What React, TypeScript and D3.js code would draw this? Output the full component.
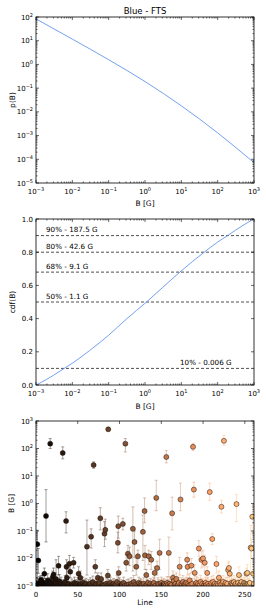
import React from 'react';
import * as d3 from 'd3';

const pdfB = [1e-3, 1e-2, 1e-1, 1, 10, 100, 1000];
const pdfP = [83, 11.7, 1.58, 0.19, 0.018, 1.3e-3, 7.2e-5];

// middle panel: cdf(B)
const cdfB = [1e-3, 2e-3, 3e-3, 6e-3, 1e-2, 3e-2, 1e-1, 3e-1, 1.1, 3, 9.1, 20, 42.6, 100, 187.5, 500, 1e3];
const cdfV = [0, 0.035, 0.058, 0.1, 0.131, 0.208, 0.3, 0.395, 0.5, 0.586, 0.68, 0.743, 0.8, 0.861, 0.9, 0.962, 1.0];

const quantLevels = [0.9, 0.8, 0.68, 0.5, 0.1];
const quantLabels = ['90% - 187.5 G', '80% - 42.6 G', '68% - 9.1 G', '50% - 1.1 G', '10% - 0.006 G'];

// bottom panel: [line, B, lower, upper]
const peakPoints: [number, number, number, number][] = [
  [1.6, 0.033, 0.0011, 0.107], [2.8, 0.0085, 0.0029, 0.023], [6, 0.0017, 0.0012, 0.0024],
  [10, 0.0028, 0.0019, 0.0045], [12, 0.35, 0.04, 3.2], [16, 0.0015, 0.0011, 0.002],
  [17, 150, 100, 230], [21, 0.0026, 0.0015, 0.0045], [24, 0.0018, 0.0011, 0.009],
  [27, 0.0054, 0.0025, 0.012], [32, 69, 42, 115], [36, 0.23, 0.085, 0.5],
  [36.5, 0.005, 0.0025, 0.009], [37, 0.002, 0.0012, 0.004], [40, 0.0065, 0.0035, 0.013],
  [41, 0.0033, 0.002, 0.006], [45, 0.007, 0.0045, 0.011], [51, 0.0028, 0.0016, 0.005],
  [53, 0.002, 0.0012, 0.0035], [61, 0.027, 0.0025, 0.25], [66, 0.062, 0.024, 0.12],
  [69, 25, 19, 33], [71, 0.005, 0.003, 0.009], [74, 0.002, 0.0012, 0.003],
  [77, 0.29, 0.11, 0.7], [82, 0.08, 0.027, 0.22], [83, 0.11, 0.05, 0.27],
  [86, 0.0024, 0.0014, 0.004], [86.5, 500, 430, 580], [98, 0.037, 0.016, 0.09],
  [98.5, 0.15, 0.055, 0.35], [99, 0.003, 0.0018, 0.005], [104, 0.18, 0.11, 0.29],
  [107, 150, 75, 230], [108, 0.007, 0.0035, 0.014], [110, 0.015, 0.006, 0.03],
  [112, 0.012, 0.0055, 0.026], [116, 0.12, 0.0035, 0.75], [118, 0.04, 0.011, 0.1],
  [120, 0.005, 0.0025, 0.01], [122, 0.012, 0.005, 0.02], [128, 0.093, 0.0085, 0.38],
  [130, 0.53, 0.2, 1.6], [130.5, 0.013, 0.004, 0.03], [132, 0.0025, 0.0015, 0.004],
  [135, 0.012, 0.006, 0.02], [138, 0.009, 0.004, 0.018], [142, 0.003, 0.0018, 0.005],
  [144, 1.6, 0.55, 7], [145, 0.0045, 0.0025, 0.008], [148, 0.016, 0.004, 0.05],
  [156, 49, 30, 85], [159, 0.016, 0.0022, 0.06], [163, 0.44, 0.11, 1.7],
  [164, 0.002, 0.0012, 0.0035], [172, 0.005, 0.0025, 0.011], [173, 1.4, 0.55, 5.5],
  [181, 0.009, 0.004, 0.016], [181.5, 0.005, 0.0025, 0.01], [186, 0.0055, 0.003, 0.01],
  [188, 115, 85, 155], [189, 3.2, 1.7, 6], [190, 0.003, 0.0018, 0.006],
  [195, 0.023, 0.012, 0.045], [198, 0.009, 0.0045, 0.018], [200, 0.01, 0.005, 0.02],
  [202, 0.007, 0.0035, 0.013], [205, 0.003, 0.0018, 0.005], [208, 2.6, 1.3, 5.5],
  [211, 0.051, 0.032, 0.08], [216, 0.0063, 0.003, 0.012], [219, 0.002, 0.0012, 0.0035],
  [222, 0.76, 0.45, 1.3], [225, 190, 130, 300], [230, 0.0038, 0.002, 0.007],
  [231, 0.0045, 0.0025, 0.008], [232, 0.0028, 0.0015, 0.005], [240, 0.95, 0.22, 2.1],
  [243, 0.0025, 0.0015, 0.005], [253, 0.003, 0.0018, 0.006], [257, 0.025, 0.0025, 0.16],
  [258, 0.023, 0.011, 0.05], [259, 0.33, 0.08, 0.8], [260, 0.0028, 0.0015, 0.006],
];

// bottom panel, points sitting near the 1e-3 floor: [line, B, upper]
const floorPoints: [number, number, number][] = [
  [0, 0.00105, 0.0016], [1, 0.0012, 0.002], [3, 0.0011, 0.0018], [4, 0.0013, 0.0022], [5, 0.00102, 0.0015],
  [7, 0.00115, 0.0017], [8, 0.0014, 0.0025], [9, 0.00101, 0.0014], [11, 0.0012, 0.0019], [13, 0.00103, 0.0015],
  [14, 0.0016, 0.0028], [15, 0.00101, 0.0014], [18, 0.0011, 0.0017], [19, 0.0013, 0.002], [20, 0.0021, 0.0035],
  [22, 0.00102, 0.0015], [23, 0.0017, 0.003], [25, 0.0012, 0.0019], [26, 0.00101, 0.0014], [28, 0.0015, 0.0026],
  [29, 0.00104, 0.0015], [30, 0.0013, 0.0021], [31, 0.00101, 0.0014], [33, 0.0011, 0.0017], [34, 0.00102, 0.0015],
  [35, 0.0014, 0.0024], [38, 0.00101, 0.0014], [39, 0.0012, 0.002], [42, 0.00103, 0.0015], [43, 0.0011, 0.0018],
  [44, 0.00101, 0.0014], [46, 0.0013, 0.0021], [47, 0.00102, 0.0015], [48, 0.0011, 0.0017], [49, 0.00101, 0.0014],
  [50, 0.0012, 0.002], [52, 0.00104, 0.0015], [54, 0.00115, 0.0018], [55, 0.00101, 0.0014], [56, 0.0013, 0.0021],
  [57, 0.00102, 0.0015], [58, 0.0011, 0.0017], [59, 0.00105, 0.0016], [60, 0.0012, 0.0019], [62, 0.00101, 0.0014],
  [63, 0.0011, 0.0017], [64, 0.00103, 0.0015], [65, 0.0012, 0.002], [67, 0.00102, 0.0015], [68, 0.0014, 0.0023],
  [70, 0.00101, 0.0014], [72, 0.0012, 0.0019], [73, 0.0011, 0.0017], [75, 0.00103, 0.0015], [76, 0.0013, 0.0021],
  [78, 0.0018, 0.003], [79, 0.00102, 0.0015], [80, 0.0011, 0.0017], [81, 0.00101, 0.0014], [84, 0.0012, 0.002],
  [85, 0.00102, 0.0015], [87, 0.0011, 0.0017], [88, 0.00101, 0.0014], [89, 0.0013, 0.0021], [90, 0.00102, 0.0015],
  [91, 0.0011, 0.0017], [92, 0.00101, 0.0014], [93, 0.0012, 0.0019], [94, 0.00103, 0.0015], [95, 0.0011, 0.0017],
  [96, 0.00102, 0.0015], [97, 0.0014, 0.0024], [100, 0.0012, 0.002], [101, 0.00101, 0.0014], [102, 0.0011, 0.0017],
  [103, 0.00102, 0.0015], [105, 0.0013, 0.0021], [106, 0.00101, 0.0014], [109, 0.0011, 0.0017], [111, 0.00115, 0.0018],
  [113, 0.00102, 0.0015], [114, 0.0012, 0.002], [115, 0.00101, 0.0014], [117, 0.0014, 0.0024], [119, 0.0011, 0.0017],
  [121, 0.00102, 0.0015], [123, 0.0013, 0.0021], [124, 0.00101, 0.0014], [125, 0.0012, 0.0019], [126, 0.0011, 0.0017],
  [127, 0.00102, 0.0015], [129, 0.0012, 0.002], [131, 0.00101, 0.0014], [133, 0.0011, 0.0017], [134, 0.0013, 0.0022],
  [136, 0.00102, 0.0015], [137, 0.0012, 0.0019], [139, 0.0011, 0.0017], [140, 0.00101, 0.0014], [141, 0.0013, 0.0021],
  [143, 0.00102, 0.0015], [146, 0.0012, 0.002], [147, 0.0011, 0.0017], [149, 0.00101, 0.0014], [150, 0.0013, 0.0021],
  [151, 0.0011, 0.0017], [152, 0.00102, 0.0015], [153, 0.0012, 0.0019], [154, 0.0011, 0.0017], [155, 0.00101, 0.0014],
  [157, 0.0013, 0.0022], [158, 0.0011, 0.0017], [160, 0.0012, 0.002], [161, 0.00102, 0.0015], [162, 0.0011, 0.0017],
  [165, 0.0015, 0.0026], [166, 0.0011, 0.0017], [167, 0.0012, 0.0019], [168, 0.0018, 0.003], [169, 0.00102, 0.0015],
  [170, 0.0011, 0.0017], [171, 0.0013, 0.0021], [174, 0.0012, 0.002], [175, 0.0011, 0.0017], [176, 0.0014, 0.0024],
  [177, 0.00102, 0.0015], [178, 0.0012, 0.0019], [179, 0.0011, 0.0017], [180, 0.0013, 0.0021], [182, 0.0012, 0.002],
  [183, 0.00102, 0.0015], [184, 0.0016, 0.0028], [185, 0.0011, 0.0017], [187, 0.0012, 0.0019], [191, 0.0011, 0.0017],
  [192, 0.0013, 0.0022], [193, 0.00102, 0.0015], [194, 0.0012, 0.002], [196, 0.0011, 0.0017], [197, 0.0014, 0.0024],
  [199, 0.0012, 0.0019], [201, 0.0011, 0.0017], [203, 0.0013, 0.0021], [204, 0.0011, 0.0017], [206, 0.0012, 0.002],
  [207, 0.00102, 0.0015], [209, 0.0011, 0.0017], [210, 0.0013, 0.0022], [212, 0.0014, 0.0024], [213, 0.0011, 0.0017],
  [214, 0.0012, 0.0019], [215, 0.00102, 0.0015], [217, 0.0012, 0.002], [218, 0.0011, 0.0017], [220, 0.0013, 0.0021],
  [221, 0.0011, 0.0017], [223, 0.0012, 0.0019], [224, 0.0014, 0.0024], [226, 0.0011, 0.0017], [227, 0.0013, 0.0021],
  [228, 0.00102, 0.0015], [229, 0.0012, 0.002], [233, 0.0011, 0.0017], [234, 0.0013, 0.0022], [235, 0.0012, 0.0019],
  [236, 0.0011, 0.0017], [237, 0.0014, 0.0024], [238, 0.00102, 0.0015], [239, 0.0012, 0.002], [241, 0.0011, 0.0017],
  [242, 0.0013, 0.0021], [244, 0.0011, 0.0017], [245, 0.0012, 0.0019], [246, 0.0014, 0.0024], [247, 0.00102, 0.0015],
  [248, 0.0011, 0.0017], [249, 0.0013, 0.0021], [250, 0.0012, 0.002], [251, 0.0011, 0.0017], [252, 0.0028, 0.0045],
  [254, 0.0012, 0.0019], [255, 0.0011, 0.0017], [256, 0.0013, 0.0022], [261, 0.0012, 0.002],
];

const lineTicks = [0, 50, 100, 150, 200, 250];
const cdfTicks = [0, 0.2, 0.4, 0.6, 0.8, 1.0];

const FONT = 'DejaVu Sans, sans-serif';
const L = 36, R = 254;
const nLines = 261;

const decades = (a: number, b: number) => d3.range(a, b + 1);
const minors = (a: number, b: number) =>
  d3.range(a, b).flatMap((e) => d3.range(2, 10).map((m) => m * 10 ** e));

// matplotlib copper colormap
const copper = (t: number) =>
  d3.rgb(255 * Math.min(1, 1.25 * t), 255 * 0.7812 * t, 255 * 0.4975 * t).toString();

const Pow10 = ({ e }: { e: number }) => (
  <>
    10<tspan dy={-3} fontSize={5}>{e < 0 ? `\u2212${-e}` : e}</tspan>
  </>
);

type Sc = (v: number) => number;

function Frame({ xs, ys, xMaj, xMin, yMaj, yMin, top, bottom }: {
  xs: Sc; ys: Sc; xMaj: number[]; xMin: number[]; yMaj: number[]; yMin: number[]; top: number; bottom: number;
}) {
  const segs: JSX.Element[] = [];
  const add = (x1: number, y1: number, x2: number, y2: number, k: string) =>
    segs.push(<line key={k} x1={x1} y1={y1} x2={x2} y2={y2} stroke="#000" strokeWidth={0.6} />);
  xMaj.forEach((v, i) => { const x = xs(v); add(x, bottom, x, bottom - 3, `xb${i}`); add(x, top, x, top + 3, `xt${i}`); });
  xMin.forEach((v, i) => { const x = xs(v); add(x, bottom, x, bottom - 1.5, `xbm${i}`); add(x, top, x, top + 1.5, `xtm${i}`); });
  yMaj.forEach((v, i) => { const y = ys(v); add(L, y, L + 3, y, `yl${i}`); add(R, y, R - 3, y, `yr${i}`); });
  yMin.forEach((v, i) => { const y = ys(v); add(L, y, L + 1.5, y, `ylm${i}`); add(R, y, R - 1.5, y, `yrm${i}`); });
  return (
    <g>
      {segs}
      <rect x={L} y={top} width={R - L} height={bottom - top} fill="none" stroke="#000" strokeWidth={0.8} />
    </g>
  );
}

export default function App() {
  // ---- top panel
  const t0 = 17, t1 = 183;
  const xB1 = d3.scaleLog().domain([1e-3, 1e3]).range([L, R]);
  const yP = d3.scaleLog().domain([1e-5, 1e2]).range([t1, t0]);
  const pdfPath = d3.line<number>()
    .x((_, i) => xB1(pdfB[i]))
    .y((d) => yP(d))
    .curve(d3.curveMonotoneX)(pdfP) as string;

  // ---- middle panel
  const m0 = 219, m1 = 385;
  const xB2 = d3.scaleLog().domain([1e-3, 1e3]).range([L, R]);
  const yC = d3.scaleLinear().domain([0, 1]).range([m1, m0]);
  const cdfPath = d3.line<number>()
    .x((_, i) => xB2(cdfB[i]))
    .y((d) => yC(d))
    .curve(d3.curveMonotoneX)(cdfV) as string;

  // ---- bottom panel
  const b0 = 421, b1 = 586;
  const xL = d3.scaleLinear().domain([0, nLines]).range([L, R]);
  const yB = d3.scaleLog().domain([1e-3, 1e3]).range([b1, b0]);

  const allPts = [
    ...floorPoints.map(([l, v, hi]) => ({ l, v, lo: v, hi })),
    ...peakPoints.map(([l, v, lo, hi]) => ({ l, v, lo, hi })),
  ].sort((a, b) => a.l - b.l);

  const tickText = { fontFamily: FONT, fontSize: 7, fill: '#000' } as const;
  const labelText = { fontFamily: FONT, fontSize: 7.5, fill: '#000' } as const;

  return (
    <svg width={266} height={613} style={{ position: 'absolute', left: 0, top: 0, background: '#fff' }}>
      <defs>
        <clipPath id="clipTop"><rect x={L} y={t0} width={R - L} height={t1 - t0} /></clipPath>
        <clipPath id="clipMid"><rect x={L} y={m0} width={R - L} height={m1 - m0} /></clipPath>
        <clipPath id="clipBot"><rect x={L} y={b0} width={R - L} height={b1 - b0} /></clipPath>
      </defs>

      {/* top: p(B) */}
      <text x={(L + R) / 2} y={14} textAnchor="middle" fontFamily={FONT} fontSize={8.5}>Blue - FTS</text>
      <path d={pdfPath} fill="none" stroke="#6495ed" strokeWidth={0.9} clipPath="url(#clipTop)" />
      <Frame xs={xB1} ys={yP} xMaj={decades(-3, 3).map((e) => 10 ** e)} xMin={minors(-3, 3)}
        yMaj={decades(-5, 2).map((e) => 10 ** e)} yMin={minors(-5, 2)} top={t0} bottom={t1} />
      {decades(-3, 3).map((e) => (
        <text key={`tx${e}`} x={xB1(10 ** e)} y={t1 + 11} textAnchor="middle" {...tickText}><Pow10 e={e} /></text>
      ))}
      {decades(-5, 2).map((e) => (
        <text key={`ty${e}`} x={33} y={yP(10 ** e) + 2.5} textAnchor="end" {...tickText}><Pow10 e={e} /></text>
      ))}
      <text x={(L + R) / 2} y={206} textAnchor="middle" {...labelText}>B [G]</text>
      <text transform={`translate(14.5,${(t0 + t1) / 2}) rotate(-90)`} textAnchor="middle" {...labelText}>p(B)</text>

      {/* middle: cdf(B) */}
      <g clipPath="url(#clipMid)">
        {quantLevels.map((q) => (
          <line key={`q${q}`} x1={L} x2={R} y1={yC(q)} y2={yC(q)} stroke="#222" strokeWidth={0.8} strokeDasharray="3,2" />
        ))}
        <path d={cdfPath} fill="none" stroke="#6495ed" strokeWidth={0.9} />
      </g>
      {quantLevels.map((q, i) => (
        <text key={`ql${q}`} x={q < 0.2 ? 180 : 46} y={yC(q) - 3.5} {...tickText} fontSize={7.2}>{quantLabels[i]}</text>
      ))}
      <Frame xs={xB2} ys={yC} xMaj={decades(-3, 3).map((e) => 10 ** e)} xMin={minors(-3, 3)}
        yMaj={cdfTicks} yMin={[]} top={m0} bottom={m1} />
      {decades(-3, 3).map((e) => (
        <text key={`cx${e}`} x={xB2(10 ** e)} y={m1 + 11} textAnchor="middle" {...tickText}><Pow10 e={e} /></text>
      ))}
      {cdfTicks.map((v) => (
        <text key={`cy${v}`} x={33} y={yC(v) + 2.5} textAnchor="end" {...tickText}>{v.toFixed(1)}</text>
      ))}
      <text x={(L + R) / 2} y={409} textAnchor="middle" {...labelText}>B [G]</text>
      <text transform={`translate(14.5,${(m0 + m1) / 2}) rotate(-90)`} textAnchor="middle" {...labelText}>cdf(B)</text>

      {/* bottom: B per line */}
      <g clipPath="url(#clipBot)">
        {allPts.map((p, i) => {
          const x = xL(p.l);
          const c = copper(p.l / nLines);
          const yl = yB(p.lo), yh = yB(p.hi);
          return (
            <g key={`e${i}`} stroke={c} strokeOpacity={0.5} strokeWidth={0.8}>
              <line x1={x} x2={x} y1={yl} y2={yh} />
              <line x1={x - 1.5} x2={x + 1.5} y1={yh} y2={yh} />
              {p.lo < p.v && <line x1={x - 1.5} x2={x + 1.5} y1={yl} y2={yl} />}
            </g>
          );
        })}
        {allPts.map((p, i) => (
          <circle key={`p${i}`} cx={xL(p.l)} cy={yB(p.v)} r={2.5} fill={copper(p.l / nLines)} stroke="#1a0f08" strokeWidth={0.5} />
        ))}
      </g>
      <Frame xs={xL} ys={yB} xMaj={lineTicks} xMin={[]}
        yMaj={decades(-3, 3).map((e) => 10 ** e)} yMin={minors(-3, 3)} top={b0} bottom={b1} />
      {lineTicks.map((v) => (
        <text key={`lx${v}`} x={xL(v)} y={b1 + 11} textAnchor="middle" {...tickText}>{v}</text>
      ))}
      {decades(-3, 3).map((e) => (
        <text key={`ly${e}`} x={33} y={yB(10 ** e) + 2.5} textAnchor="end" {...tickText}><Pow10 e={e} /></text>
      ))}
      <text x={(L + R) / 2} y={605} textAnchor="middle" {...labelText}>Line</text>
      <text transform={`translate(13.5,${(b0 + b1) / 2}) rotate(-90)`} textAnchor="middle" {...labelText}>B [G]</text>
    </svg>
  );
}
